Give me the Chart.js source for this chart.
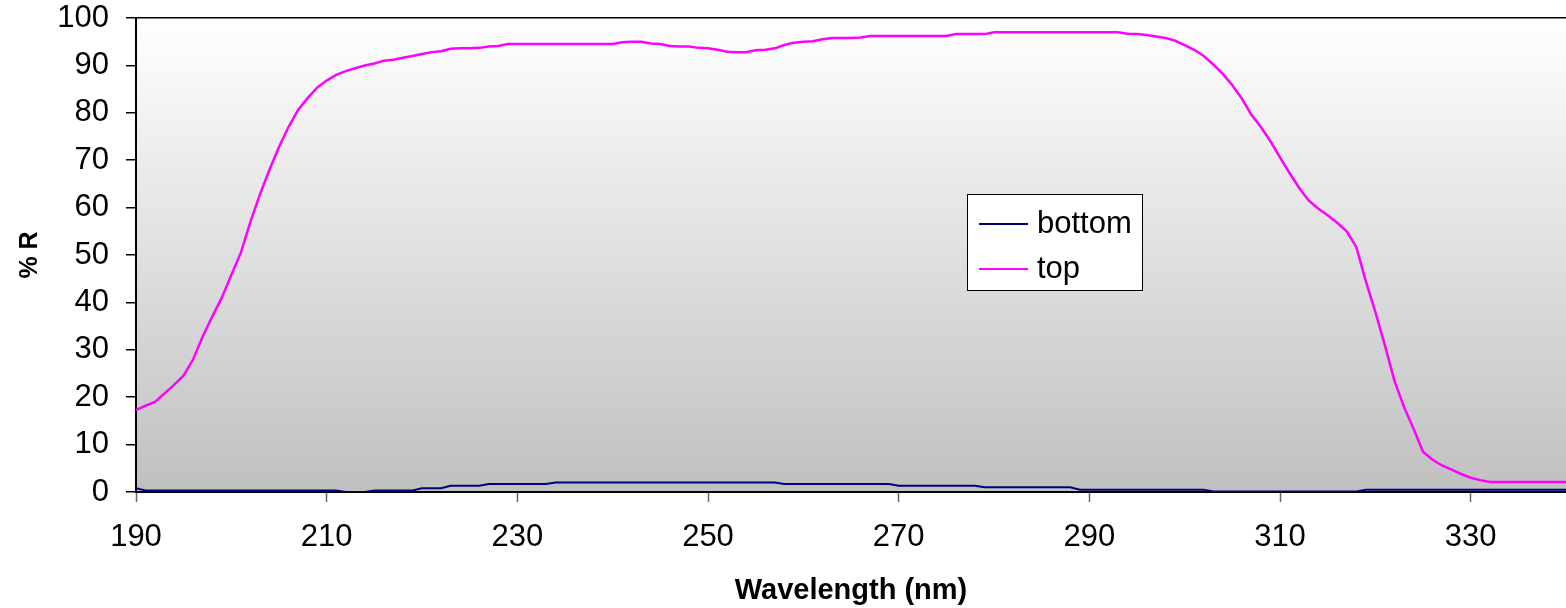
<!DOCTYPE html>
<html>
<head>
<meta charset="utf-8">
<script src="https://cdn.jsdelivr.net/npm/chart.js@4.4.1/dist/chart.umd.min.js"></script>
<style>
html,body{margin:0;padding:0;background:#ffffff;}
#wrap{width:1566px;height:608px;position:relative;}
</style>
</head>
<body>
<div id="wrap"><canvas id="c"></canvas></div>
<script>
const wavelengths = [190,191,192,193,194,195,196,197,198,199,200,201,202,203,204,205,206,207,208,209,
210,211,212,213,214,215,216,217,218,219,220,221,222,223,224,225,226,227,228,229,
230,231,232,233,234,235,236,237,238,239,240,241,242,243,244,245,246,247,248,249,
250,251,252,253,254,255,256,257,258,259,260,261,262,263,264,265,266,267,268,269,
270,271,272,273,274,275,276,277,278,279,280,281,282,283,284,285,286,287,288,289,
290,291,292,293,294,295,296,297,298,299,300,301,302,303,304,305,306,307,308,309,
310,311,312,313,314,315,316,317,318,319,320,321,322,323,324,325,326,327,328,329,
330,331,332,333,334,335,336,337,338,339,340];

const bottomValues = [0.8,0.3,0.3,0.3,0.3,0.3,0.3,0.3,0.3,0.3,0.3,0.3,0.3,0.3,0.3,0.3,0.3,0.3,0.3,0.3,
0.3,0.3,0.0,0.0,0.0,0.3,0.3,0.3,0.3,0.3,0.8,0.8,0.8,1.3,1.3,1.3,1.3,1.7,1.7,1.7,
1.7,1.7,1.7,1.7,2.0,2.0,2.0,2.0,2.0,2.0,2.0,2.0,2.0,2.0,2.0,2.0,2.0,2.0,2.0,2.0,
2.0,2.0,2.0,2.0,2.0,2.0,2.0,2.0,1.7,1.7,1.7,1.7,1.7,1.7,1.7,1.7,1.7,1.7,1.7,1.7,
1.3,1.3,1.3,1.3,1.3,1.3,1.3,1.3,1.3,1.0,1.0,1.0,1.0,1.0,1.0,1.0,1.0,1.0,1.0,0.5,
0.5,0.5,0.5,0.5,0.5,0.5,0.5,0.5,0.5,0.5,0.5,0.5,0.5,0.1,0.1,0.1,0.1,0.1,0.1,0.1,
0.1,0.1,0.1,0.1,0.1,0.1,0.1,0.1,0.1,0.5,0.5,0.5,0.5,0.5,0.5,0.5,0.5,0.5,0.5,0.5,
0.5,0.5,0.5,0.5,0.5,0.5,0.5,0.5,0.5,0.5,0.5];

const topValues = [17.3,18.2,19.0,20.8,22.6,24.6,28.0,32.8,37.0,41.0,45.8,50.5,57.0,62.8,68.0,72.8,77.0,80.6,83.1,85.3,
86.8,88.0,88.8,89.4,90.0,90.4,91.0,91.2,91.6,92.0,92.4,92.8,93.0,93.5,93.6,93.6,93.7,94.0,94.1,94.5,
94.5,94.5,94.5,94.5,94.5,94.5,94.5,94.5,94.5,94.5,94.5,94.9,95.0,95.0,94.6,94.5,94.1,94.0,94.0,93.7,
93.6,93.3,92.9,92.8,92.8,93.2,93.3,93.6,94.3,94.8,95.0,95.1,95.5,95.8,95.8,95.8,95.9,96.2,96.2,96.2,
96.2,96.2,96.2,96.2,96.2,96.2,96.6,96.6,96.6,96.6,97.0,97.0,97.0,97.0,97.0,97.0,97.0,97.0,97.0,97.0,
97.0,97.0,97.0,97.0,96.7,96.6,96.4,96.1,95.8,95.2,94.3,93.3,92.0,90.2,88.2,85.8,83.0,79.6,77.0,74.0,
70.6,67.3,64.2,61.5,59.8,58.4,56.8,55.0,51.7,44.5,38.0,31.0,23.5,18.0,13.4,8.5,6.8,5.6,4.7,3.8,
3.0,2.5,2.1,2.1,2.1,2.1,2.1,2.1,2.1,2.1,2.1];

const seriesNames = ['bottom','top'];
const seriesColors = ['#000080','#ff00ff'];
const xTickLabels = [190,210,230,250,270,290,310,330];
const yTickLabels = [0,10,20,30,40,50,60,70,80,90,100];
const xTitle = 'Wavelength (nm)';
const yTitle = '% R';

const FONT = "'Liberation Sans', Arial, sans-serif";

const bgPlugin = {
  id: 'bg',
  beforeDraw(chart) {
    const {ctx, chartArea: a} = chart;
    const g = ctx.createLinearGradient(0, a.top, 0, a.bottom);
    g.addColorStop(0, '#ffffff');
    g.addColorStop(1, '#c0c0c0');
    ctx.save();
    ctx.fillStyle = g;
    ctx.fillRect(a.left, a.top, a.right - a.left, a.bottom - a.top);
    ctx.restore();
  }
};

const legendPlugin = {
  id: 'boxLegend',
  afterDraw(chart, args, opts) {
    const ctx = chart.ctx;
    ctx.save();
    ctx.fillStyle = '#ffffff';
    ctx.fillRect(opts.x, opts.y, opts.w, opts.h);
    ctx.strokeStyle = '#000000';
    ctx.lineWidth = 1;
    ctx.strokeRect(opts.x + 0.5, opts.y + 0.5, opts.w, opts.h);
    ctx.font = opts.fontSize + 'px ' + FONT;
    ctx.textBaseline = 'middle';
    ctx.textAlign = 'left';
    chart.data.datasets.forEach((ds, i) => {
      const yy = opts.y + opts.firstRow + i * opts.rowGap;
      ctx.strokeStyle = ds.borderColor;
      ctx.lineWidth = 2;
      ctx.beginPath();
      ctx.moveTo(opts.x + opts.lineStart, yy);
      ctx.lineTo(opts.x + opts.lineStart + opts.lineLen, yy);
      ctx.stroke();
      ctx.fillStyle = '#000000';
      ctx.fillText(ds.label, opts.x + opts.textStart, yy);
    });
    ctx.restore();
  }
};

const datasets = seriesNames.map((name, i) => ({
  label: name,
  data: wavelengths.map((w, k) => ({x: w, y: (i === 0 ? bottomValues : topValues)[k]})),
  borderColor: seriesColors[i],
  backgroundColor: seriesColors[i],
  borderWidth: i === 0 ? 2 : 2.5,
  pointRadius: 0,
  tension: 0,
  fill: false
}));

new Chart(document.getElementById('c'), {
  type: 'line',
  data: { datasets },
  plugins: [bgPlugin, legendPlugin],
  options: {
    responsive: true,
    maintainAspectRatio: false,
    animation: false,
    layout: { padding: { top: 0, right: 0, left: 0, bottom: 0 } },
    plugins: {
      legend: { display: false },
      tooltip: { enabled: false },
      boxLegend: { x: 967, y: 194, w: 175, h: 96, firstRow: 30, rowGap: 45, lineStart: 12, lineLen: 49, textStart: 70, fontSize: 31 }
    },
    scales: {
      x: {
        type: 'linear',
        min: 190, max: 340,
        afterFit(s) { s.height = 116; },
        afterBuildTicks(s) { s.ticks = xTickLabels.map(v => ({value: v})); },
        grid: { drawOnChartArea: false, drawTicks: true, tickLength: 10, tickColor: '#666666', tickWidth: 1.5 },
        border: { display: true, color: '#000000', width: 2 },
        ticks: { color: '#000000', font: { family: FONT, size: 31 }, padding: 17, maxRotation: 0, autoSkip: false },
        title: { display: true, text: xTitle, color: '#000000', font: { family: FONT, size: 29, weight: 'bold' }, padding: { top: 0, bottom: 0 } }
      },
      y: {
        type: 'linear',
        min: 0, max: 100,
        afterFit(s) { s.width = 136; s.paddingTop = 18; },
        afterBuildTicks(s) { s.ticks = yTickLabels.map(v => ({value: v})); },
        grid: {
          drawOnChartArea: true,
          drawTicks: true,
          tickLength: 10,
          color: (c) => (c.tick && c.tick.value === 100) ? '#000000' : 'rgba(0,0,0,0)',
          tickColor: '#000000',
          lineWidth: 1.5
        },
        border: { display: true, color: '#000000', width: 2 },
        ticks: { color: '#000000', font: { family: FONT, size: 31 }, padding: 17, autoSkip: false },
        title: { display: true, text: yTitle, color: '#000000', font: { family: FONT, size: 25, weight: 'bold' }, padding: { top: 15, bottom: 0 } }
      }
    }
  }
});
</script>
</body>
</html>
